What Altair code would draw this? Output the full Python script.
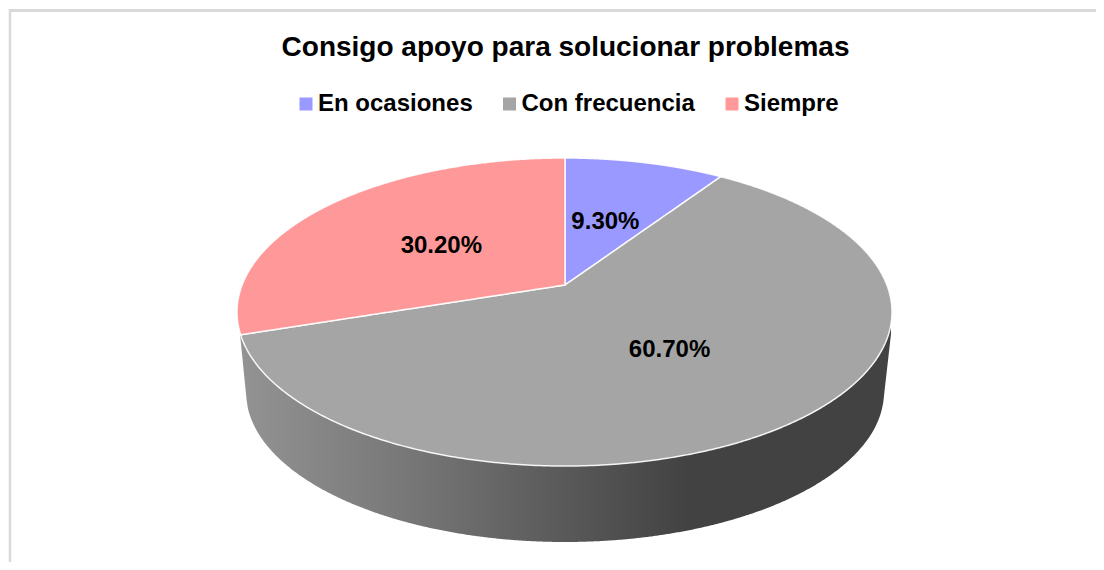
import math
import altair as alt
import pandas as pd

categories = ["En ocasiones", "Con frecuencia", "Siempre"]
values = [9.3, 60.7, 30.2]
labels = ["9.30%", "60.70%", "30.20%"]
colors = ["#9999FF", "#A5A5A5", "#FF9999"]
title_text = "Consigo apoyo para solucionar problemas"

W, H = 1088, 554
APEX = (565.0, 285.0)
TOP = dict(cx=564.5, cy=312.0, a=327.5, b=154.0)
BOT = dict(cx=565.0, cy=392.0, a=319.0, b=150.0)
SQUASH = 2.18
LABEL_FRAC = [0.53, 0.465, 0.51]


def rim_hit(theta):
    """Where the ray for pie angle theta (clockwise from 12 o'clock) meets the top rim."""
    dx, dy = SQUASH * math.sin(theta), -math.cos(theta)
    ox, oy = APEX[0] - TOP["cx"], APEX[1] - TOP["cy"]
    A = (dx / TOP["a"]) ** 2 + (dy / TOP["b"]) ** 2
    B = 2 * (ox * dx / TOP["a"] ** 2 + oy * dy / TOP["b"] ** 2)
    C = (ox / TOP["a"]) ** 2 + (oy / TOP["b"]) ** 2 - 1
    tau = (-B + math.sqrt(B * B - 4 * A * C)) / (2 * A)
    return APEX[0] + tau * dx, APEX[1] + tau * dy


def rim_param(p):
    # clockwise ellipse parameter from the top
    t = math.atan2((p[0] - TOP["cx"]) / TOP["a"], -(p[1] - TOP["cy"]) / TOP["b"])
    return t % (2 * math.pi)


def slice_bounds(poly, name):
    rows = []
    xs = sorted({round(p[0], 2) for p in poly})
    n = len(poly)
    for x in xs:
        ys = []
        for i in range(n):
            (x0, y0), (x1, y1) = poly[i], poly[(i + 1) % n]
            lo, hi = min(x0, x1), max(x0, x1)
            if lo - 1e-6 <= x <= hi + 1e-6:
                if abs(x1 - x0) < 1e-9:
                    ys += [y0, y1]
                else:
                    ys.append(y0 + (y1 - y0) * (x - x0) / (x1 - x0))
        if ys:
            rows.append(dict(x=x, y=min(ys), y2=max(ys), cat=name))
    return rows


total = sum(values)
rows, text_rows = [], []
acc = 0.0
for i, (c, v) in enumerate(zip(categories, values)):
    th0 = acc / total * 2 * math.pi
    acc += v
    th1 = acc / total * 2 * math.pi
    p0, p1 = rim_hit(th0), rim_hit(th1 % (2 * math.pi))
    t0, t1 = rim_param(p0), rim_param(p1)
    if t1 <= t0:
        t1 += 2 * math.pi
    n = 320
    poly = [APEX]
    for k in range(n + 1):
        t = t0 + (t1 - t0) * k / n
        poly.append((TOP["cx"] + TOP["a"] * math.sin(t), TOP["cy"] - TOP["b"] * math.cos(t)))
    rows += slice_bounds(poly, c)
    mid = rim_hit((th0 + th1) / 2)
    f = LABEL_FRAC[i]
    text_rows.append(dict(x=APEX[0] + f * (mid[0] - APEX[0]), y=APEX[1] + f * (mid[1] - APEX[1]), t=labels[i]))

# side wall, from the top rim's front half down to the lower rim
wall_rows = []
xl, yl = 240.0, 334.0
xr, yr = 891.0, 334.0
bl = BOT["cx"] - BOT["a"]
br = BOT["cx"] + BOT["a"]
N = 500
for k in range(N + 1):
    x = xl + (xr - xl) * k / N
    u = max(0.0, 1 - ((x - TOP["cx"]) / TOP["a"]) ** 2)
    top = TOP["cy"] + TOP["b"] * math.sqrt(u)
    if x < bl + 1.5:
        bot = yl + (BOT["cy"] + 17 - yl) * (x - xl) / (bl + 1.5 - xl)
    elif x > br - 1.5:
        bot = yr + (BOT["cy"] + 17 - yr) * (xr - x) / (xr - br + 1.5)
    else:
        bot = BOT["cy"] + BOT["b"] * math.sqrt(max(0.0, 1 - ((x - BOT["cx"]) / BOT["a"]) ** 2))
    wall_rows.append(dict(x=x, y=top, y2=max(top, bot)))

xs = alt.Scale(domain=[8, 8 + W], nice=False, zero=False)
ys = alt.Scale(domain=[8, 8 + H], nice=False, zero=False, reverse=True)
X = alt.X("x:Q", scale=xs, axis=None)
Y = alt.Y("y:Q", scale=ys, axis=None)

wall = alt.Chart(pd.DataFrame(wall_rows)).mark_area(
    color=alt.LinearGradient(
        gradient="linear", x1=0, x2=1, y1=0, y2=0,
        stops=[
            alt.GradientStop(offset=0, color="#939393"),
            alt.GradientStop(offset=0.25, color="#787878"),
            alt.GradientStop(offset=0.5, color="#595959"),
            alt.GradientStop(offset=0.69, color="#424242"),
            alt.GradientStop(offset=1, color="#424242"),
        ],
    )
).encode(x=X, y=Y, y2="y2:Q")

layers = [wall]
legend = alt.Legend(
    orient="none", legendX=286, legendY=84, direction="horizontal", columns=3,
    title=None, symbolType="square", symbolSize=169, symbolStrokeWidth=0,
    labelFont="Liberation Sans", labelFontSize=24, labelFontWeight="bold",
    labelColor="black", labelOffset=0, columnPadding=24.5, labelLimit=300,
)
color = alt.Color("cat:N", scale=alt.Scale(domain=categories, range=colors), legend=legend)
for c in categories:
    d = pd.DataFrame([r for r in rows if r["cat"] == c])
    layers.append(
        alt.Chart(d).mark_area(stroke="white", strokeWidth=1.5, strokeOpacity=0.9, opacity=1).encode(
            x=X, y=Y, y2="y2:Q", color=color
        )
    )

text = alt.Chart(pd.DataFrame(text_rows)).mark_text(
    font="Liberation Sans", fontSize=24, fontWeight="bold", color="black",
    align="center", baseline="middle", dx=-2, dy=1.5,
).encode(x=X, y=Y, text="t:N")

frame_top = alt.Chart(pd.DataFrame({"a": [0]})).mark_rule(color="#D9D9D9", strokeWidth=3).encode(
    x=alt.value(1), x2=alt.value(W), y=alt.value(2.5)
)
frame_left = alt.Chart(pd.DataFrame({"a": [0]})).mark_rule(color="#D9D9D9", strokeWidth=2.5).encode(
    x=alt.value(2), y=alt.value(1), y2=alt.value(H)
)

chart = alt.layer(frame_top, frame_left, *layers, text).properties(
    width=W,
    height=H,
    padding=0,
    autosize=alt.AutoSizeParams(type="none"),
    title=alt.TitleParams(
        title_text, font="Liberation Sans", fontSize=28, fontWeight="bold", color="black",
        anchor="middle", orient="top", baseline="alphabetic", dx=13.5, dy=76, offset=0,
    ),
).configure_view(stroke=None)

chart.save("out.html", embed_options={"renderer": "svg", "actions": False})
